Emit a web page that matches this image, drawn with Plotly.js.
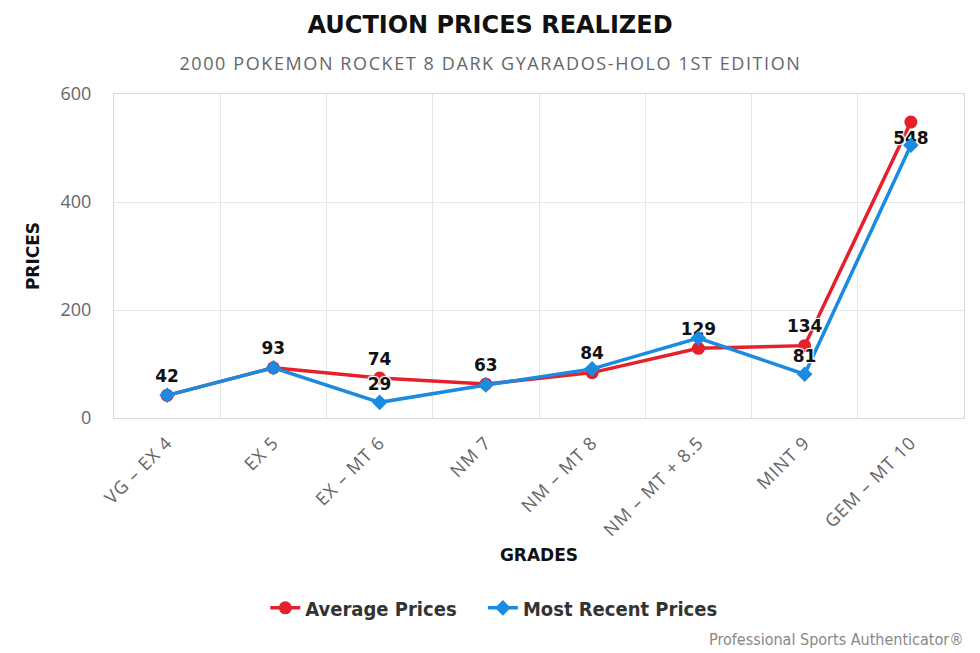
<!DOCTYPE html>
<html>
<head>
<meta charset="utf-8">
<script src="https://cdn.plot.ly/plotly-3.0.1.min.js"></script>
<style>html,body{margin:0;padding:0;background:#fff;}#chart{width:980px;height:653px;}
.subtitle-spaced .annotation-text{letter-spacing:1.6px;}
.xtick text{letter-spacing:1px;}
</style>
</head>
<body>
<div id="chart"></div>
<script>
const grades = ["VG – EX 4", "EX 5", "EX – MT 6", "NM 7", "NM – MT 8", "NM – MT + 8.5", "MINT 9", "GEM – MT 10"];
const averagePrices = [42, 93, 74, 63, 84, 129, 134, 548];
const recentPrices = [42, 93, 29, 61, 91, 148, 81, 505];
const averageLabels = ["42", "93", "74", "63", "84", "129", "134", "548"];
const recentLabels = ["", "", "29", "", "", "", "81", ""];
const averageLabelPos = ["top center","top center","top center","top center","top center","top center","top center","bottom center"];

const outline = "1px 1px 1px #fff, -1px -1px 1px #fff, 1px -1px 1px #fff, -1px 1px 1px #fff";
const labelFont = {family: "DejaVu Sans", size: 17, color: "#111", weight: 700, shadow: outline};

const traces = [
  {
    x: grades, y: averagePrices, name: "Average Prices", type: "scatter", mode: "lines+markers+text",
    line: {color: "#e5202b", width: 3.5},
    marker: {symbol: "circle", size: 13, color: "#e5202b"},
    text: averageLabels, textposition: averageLabelPos, textfont: labelFont,
    cliponaxis: false, hoverinfo: "x+y", legend: "legend"
  },
  {
    x: grades, y: recentPrices, name: "Most Recent Prices", type: "scatter", mode: "lines+markers+text",
    line: {color: "#1a8be0", width: 3.5},
    marker: {symbol: "diamond", size: 12, color: "#1a8be0"},
    text: recentLabels, textposition: "top center", textfont: labelFont,
    cliponaxis: false, hoverinfo: "x+y", legend: "legend2"
  }
];

const legendFont = {family: "DejaVu Sans Condensed", size: 20, color: "#333", weight: 700};

const layout = {
  width: 980, height: 653,
  margin: {l: 114, r: 16, t: 94, b: 235},
  paper_bgcolor: "#fff", plot_bgcolor: "#fff",
  font: {family: "Open Sans", color: "#666"},
  title: {
    text: "AUCTION PRICES REALIZED",
    font: {family: "DejaVu Sans", size: 24, color: "#111", weight: 700},
    x: 0.5, xanchor: "center", y: 0.962, yanchor: "middle"
  },
  showlegend: true,
  legend: {
    orientation: "h", x: 0.178, xanchor: "left", y: -0.586, yanchor: "middle",
    font: legendFont, itemwidth: 30
  },
  legend2: {
    orientation: "h", x: 0.434, xanchor: "left", y: -0.586, yanchor: "middle",
    font: legendFont, itemwidth: 30
  },
  xaxis: {
    type: "category", tickson: "boundaries",
    showgrid: true, gridcolor: "#e3e6ea", gridwidth: 1,
    showline: true, linecolor: "#d5d9de", linewidth: 1, mirror: true,
    ticks: "", tickangle: -45, ticklabelstandoff: 6,
    tickfont: {family: "Open Sans", size: 18, color: "#666"},
    range: [-0.5, 7.5],
    title: {text: "GRADES", font: {family: "DejaVu Sans", size: 17, color: "#111", weight: 700}, standoff: 9},
    zeroline: false
  },
  yaxis: {
    range: [0, 600], tickvals: [0, 200, 400, 600],
    showgrid: true, gridcolor: "#e3e6ea", gridwidth: 1,
    showline: true, linecolor: "#d5d9de", linewidth: 1, mirror: true,
    zeroline: false, ticks: "", ticklabelstandoff: 18,
    tickfont: {family: "Open Sans", size: 18, color: "#666"},
    title: {text: "PRICES", font: {family: "DejaVu Sans", size: 17, color: "#111", weight: 700}, standoff: 16}
  },
  annotations: [
    {
      text: "2000 POKEMON ROCKET 8 DARK GYARADOS-HOLO 1ST EDITION",
      xref: "paper", yref: "paper", x: 0.5, y: 1.096, xanchor: "center", yanchor: "middle",
      xshift: -49, showarrow: false, name: "subtitle",
      font: {family: "Open Sans", size: 18, color: "#666"}
    },
    {
      text: "Professional Sports Authenticator®",
      xref: "paper", yref: "paper", x: 1, y: -0.685, xanchor: "right", yanchor: "middle",
      xshift: 2, showarrow: false,
      font: {family: "DejaVu Sans Condensed", size: 16, color: "#888"}
    }
  ]
};

Plotly.newPlot("chart", traces, layout, {displayModeBar: false, staticPlot: true}).then(function (gd) {
  const ann = gd.querySelectorAll(".annotation");
  if (ann.length) ann[0].classList.add("subtitle-spaced");
});
</script>
</body>
</html>
